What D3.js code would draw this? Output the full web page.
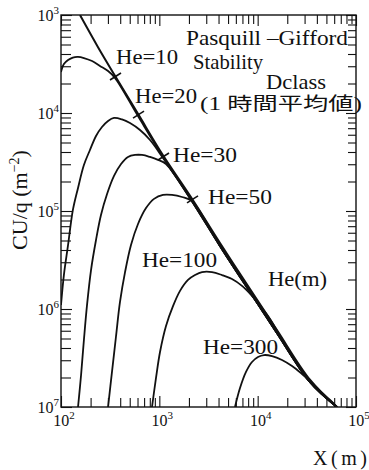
<!DOCTYPE html>
<html>
<head>
<meta charset="utf-8">
<script src="https://cdn.jsdelivr.net/npm/d3@7"></script>
<style>
body { margin: 0; background: #fff; }
svg text { font-family: 'Liberation Serif', 'Noto Sans CJK JP', serif; fill: #111; }
</style>
</head>
<body>
<div id="chart"></div>
<script>
/* global d3 */

// ---- data (x in m, y = CU/q in m^-2) ----
var xDomain = [1e2, 1e5],
yDomain = [1e-7, 1e-3];

var xExponents = [2, 3, 4, 5],
yExponents = [3, 4, 5, 6, 7]; // printed without the minus sign

// upper line (He = 0 asymptote)
var lineHe0 = [[156, 1.0e-3], [238, 4.7e-4], [354, 2.4e-4], [607, 9.8e-5], [1090, 3.7e-5],
  [2150, 1.33e-5], [4140, 4.7e-6], [8360, 1.6e-6], [15700, 6.1e-7], [34000, 1.9e-7], [64000, 1.0e-7]];

// common far part where the curves run along the line
var tail = [[2150, 1.26e-5], [4140, 4.4e-6], [8360, 1.49e-6], [15700, 5.7e-7], [34000, 1.8e-7], [64000, 1.0e-7]];

var he10 = [[100, 2.62e-4], [107, 3.16e-4], [118, 3.47e-4], [132, 3.68e-4], [149, 3.73e-4], [171, 3.64e-4],
  [207, 3.39e-4], [249, 3.02e-4], [301, 2.68e-4], [354, 2.28e-4], [607, 9.3e-5], [1090, 3.56e-5]].concat(tail);

var he20 = [[100, 1.1e-6], [107, 2.22e-6], [118, 4.5e-6], [132, 1.02e-5], [149, 1.72e-5], [171, 2.95e-5],
  [197, 4.19e-5], [227, 5.83e-5], [261, 7.2e-5], [301, 8.3e-5], [346, 8.9e-5], [417, 8.6e-5],
  [503, 7.9e-5], [636, 6.7e-5], [804, 5.3e-5], [1090, 3.47e-5]].concat(tail);

var he30 = [[149, 1.0e-7], [160, 2.12e-7], [171, 4.83e-7], [184, 1.1e-6], [202, 2.5e-6], [227, 5.06e-6],
  [255, 9.1e-6], [294, 1.49e-5], [346, 2.28e-5], [408, 3.02e-5], [480, 3.56e-5], [566, 3.73e-5],
  [667, 3.73e-5], [804, 3.56e-5], [969, 3.33e-5], [1169, 3.02e-5]].concat(tail);

var he50 = [[301, 1.0e-7], [330, 2.28e-7], [362, 5.18e-7], [398, 1.18e-6], [448, 2.38e-6], [515, 4.5e-6],
  [607, 7.37e-6], [732, 1.07e-5], [883, 1.33e-5], [1090, 1.46e-5], [1346, 1.46e-5], [1701, 1.39e-5]].concat(tail);

var he100 = [[842, 1.0e-7], [925, 1.98e-7], [1016, 3.64e-7], [1169, 6.71e-7], [1377, 1.07e-6], [1623, 1.53e-6],
  [1957, 1.98e-6], [2305, 2.22e-6], [2716, 2.38e-6], [3432, 2.38e-6], [4338, 2.22e-6], [5483, 2.02e-6],
  [6929, 1.72e-6], [8757, 1.36e-6], [11070, 1.02e-6], [13350, 7.9e-7], [16880, 5.3e-7],
  [34000, 1.8e-7], [64000, 1.0e-7]];

var he300 = [[5880, 1.0e-7], [6613, 1.56e-7], [7610, 2.28e-7], [8757, 2.88e-7], [10080, 3.24e-7],
  [11600, 3.39e-7], [13990, 3.31e-7], [17680, 3.02e-7], [22350, 2.62e-7], [28240, 2.17e-7],
  [35690, 1.76e-7], [45110, 1.39e-7], [54420, 1.18e-7], [64110, 1.0e-7]];

var curves = [he10, he20, he30, he50, he100, he300];

// small cross marks on the upper line
var markX = [354, 607, 1090, 2150],
markY = [2.33e-4, 9.5e-5, 3.56e-5, 1.3e-5];

var heLabels = ['He=10', 'He=20', 'He=30', 'He=50', 'He=100', 'He(m)', 'He=300'];
var titleLines = ['Pasquill \u2013Gifford', 'Stability', 'Dclass', '(1 時間平均値)'];

// ---- layout ----
var w = 369,
h = 470,
m = { top: 15, right: 13, bottom: 63, left: 61 },
serif = "'Liberation Serif', 'Noto Sans CJK JP', serif";

var svg = d3.
select('#chart').
append('svg').
attr('width', w).
attr('height', h).
attr('font-family', serif).
style('background', '#fff');

var x = d3.scaleLog().domain(xDomain).range([m.left, w - m.right]);
var y = d3.scaleLog().domain(yDomain).range([h - m.bottom, m.top]);

function isMajor(v) {
  var l = Math.log10(v);
  return Math.abs(l - Math.round(l)) < 1e-9;
}

var xMinor = x.ticks().filter(d => !isMajor(d)),
xMajor = x.ticks().filter(isMajor),
yMinor = y.ticks().filter(d => !isMajor(d)),
yMajor = y.ticks().filter(isMajor);

function tickAxis(gen, pos, vals, size) {
  var g = svg.append('g').
  attr('transform', pos).
  call(gen.tickValues(vals).tickSize(size).tickSizeOuter(0).tickFormat(''));
  g.select('.domain').remove();
  g.selectAll('line').attr('stroke', '#111').attr('stroke-width', 1.1);
}

var bottomY = h - m.bottom,
rightX = w - m.right;

// ticks point inward on all four sides
tickAxis(d3.axisBottom(x), 'translate(0,' + bottomY + ')', xMinor, -9);
tickAxis(d3.axisBottom(x), 'translate(0,' + bottomY + ')', xMajor, -11);
tickAxis(d3.axisTop(x), 'translate(0,' + m.top + ')', xMinor, -9);
tickAxis(d3.axisTop(x), 'translate(0,' + m.top + ')', xMajor, -11);
tickAxis(d3.axisLeft(y), 'translate(' + m.left + ',0)', yMinor, -10);
tickAxis(d3.axisLeft(y), 'translate(' + m.left + ',0)', yMajor, -11);
tickAxis(d3.axisRight(y), 'translate(' + rightX + ',0)', yMinor, -8);
tickAxis(d3.axisRight(y), 'translate(' + rightX + ',0)', yMajor, -10);

svg.append('rect').
attr('x', m.left).
attr('y', m.top).
attr('width', rightX - m.left).
attr('height', bottomY - m.top).
attr('fill', 'none').
attr('stroke', '#111').
attr('stroke-width', 1.4);

// tick labels 10^n
svg.append('g').
selectAll('text').
data(xMajor).
enter().
append('text').
attr('x', d => x(d) + 3).
attr('y', bottomY + 19).
attr('text-anchor', 'middle').
style('font-size', '16px').
each(function (d, i) {
  var t = d3.select(this);
  t.append('tspan').text('10');
  t.append('tspan').attr('dy', -7).style('font-size', '11px').text(xExponents[i]);
});

svg.append('g').
selectAll('text').
data(yMajor.slice().reverse()).
enter().
append('text').
attr('x', m.left - 2).
attr('y', d => y(d) + 5.5).
attr('text-anchor', 'end').
style('font-size', '16px').
each(function (d, i) {
  var t = d3.select(this);
  t.append('tspan').text('10');
  t.append('tspan').attr('dy', -7).style('font-size', '11px').text(yExponents[i]);
});

// axis titles
var yTitle = svg.append('text').
attr('transform', 'translate(27,200) rotate(-90)').
attr('text-anchor', 'middle').
style('font-size', '22px');
yTitle.append('tspan').text('CU/q (m');
yTitle.append('tspan').attr('dy', -8).style('font-size', '14px').text('\u22122');
yTitle.append('tspan').attr('dy', 8).text(')');

svg.append('text').
attr('x', 313).
attr('y', 465).
attr('textLength', 54).
attr('lengthAdjust', 'spacing').
style('font-size', '20px').
text('X(m)');

// curves
svg.append('clipPath').
attr('id', 'plotClip').
append('rect').
attr('x', m.left).
attr('y', m.top).
attr('width', rightX - m.left).
attr('height', bottomY - m.top);

var line = d3.line().
x(d => x(d[0])).
y(d => y(d[1])).
curve(d3.curveCatmullRom.alpha(0.5));

var plot = svg.append('g').attr('clip-path', 'url(#plotClip)');

plot.append('path').
datum(lineHe0).
attr('d', line).
attr('fill', 'none').
attr('stroke', '#111').
attr('stroke-width', 2);

plot.selectAll('path.he').
data(curves).
enter().
append('path').
attr('class', 'he').
attr('d', line).
attr('fill', 'none').
attr('stroke', '#111').
attr('stroke-width', 1.8);

// cross marks, drawn across the line
plot.selectAll('line.mark').
data(markX).
enter().
append('line').
attr('class', 'mark').
attr('x1', d => x(d) - 5).
attr('y1', (d, i) => y(markY[i]) + 3).
attr('x2', d => x(d) + 6).
attr('y2', (d, i) => y(markY[i]) - 4).
attr('stroke', '#111').
attr('stroke-width', 1.6);

// annotations
var labelPos = [
  [116, 64, 62], [135, 103, 62], [173, 162, 64], [208, 204, 64],
  [142, 267, 75], [268, 286, 59], [203, 354, 75]];

svg.append('g').
selectAll('text').
data(heLabels).
enter().
append('text').
attr('x', (d, i) => labelPos[i][0]).
attr('y', (d, i) => labelPos[i][1]).
attr('textLength', (d, i) => labelPos[i][2]).
attr('lengthAdjust', 'spacingAndGlyphs').
style('font-size', '22px').
text(d => d);

var titlePos = [[186, 45, 162, 22], [193, 69, 70, 22], [266, 89, 60, 22], [200, 110, 162, 18]];

svg.append('g').
selectAll('text').
data(titleLines).
enter().
append('text').
attr('x', (d, i) => titlePos[i][0]).
attr('y', (d, i) => titlePos[i][1]).
attr('textLength', (d, i) => titlePos[i][2]).
attr('lengthAdjust', 'spacingAndGlyphs').
style('font-size', (d, i) => titlePos[i][3] + 'px').
text(d => d);
</script>
</body>
</html>
